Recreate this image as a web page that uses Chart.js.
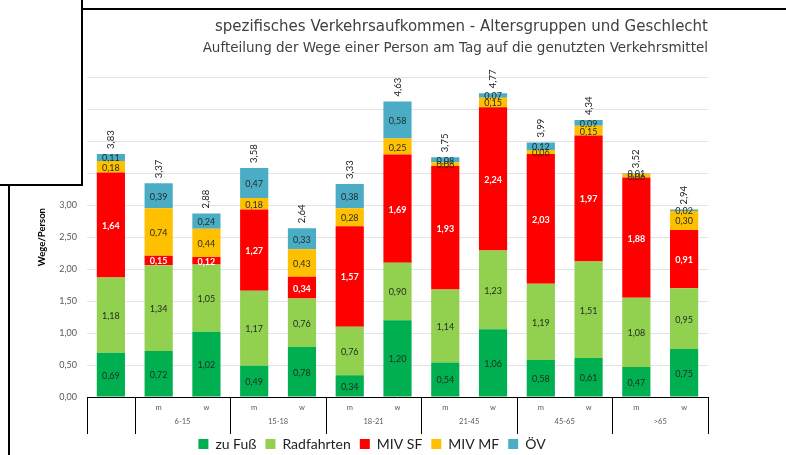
<!DOCTYPE html>
<html>
<head>
<meta charset="utf-8">
<script src="https://cdn.jsdelivr.net/npm/chart.js@4.4.1/dist/chart.umd.min.js"></script>
<style>
  html, body { margin: 0; padding: 0; background: #fff; }
  #wrap { position: relative; width: 786px; height: 455px; overflow: hidden; }
  #chart { position: absolute; left: 0; top: 0; }
  .ln { position: absolute; background: #000; }
  #box { position: absolute; left: 0; top: 0; width: 82px; height: 184px; background: #fff; }
</style>
</head>
<body>
<div id="wrap">
  <canvas id="chart" width="786" height="455"></canvas>
  <div class="ln" style="left:82px;top:8px;width:704px;height:2px"></div>
  <div class="ln" style="left:8px;top:184px;width:2px;height:271px"></div>
  <div id="box"></div>
  <div class="ln" style="left:81px;top:0;width:2px;height:186px"></div>
  <div class="ln" style="left:0;top:184px;width:83px;height:2px"></div>
</div>
<script>
// Kategorien (untere Ebene m/w, obere Ebene Altersgruppen)
const geschlecht = ['', 'm', 'w', 'm', 'w', 'm', 'w', 'm', 'w', 'm', 'w', 'm', 'w'];
const altersgruppen = ['', '6-15', '15-18', '18-21', '21-45', '45-65', '>65'];

// Wege pro Person und Tag
const zuFuss     = [0.69, 0.72, 1.02, 0.49, 0.78, 0.34, 1.20, 0.54, 1.06, 0.58, 0.61, 0.47, 0.75];
const radfahrten = [1.18, 1.34, 1.05, 1.17, 0.76, 0.76, 0.90, 1.14, 1.23, 1.19, 1.51, 1.08, 0.95];
const mivSF      = [1.64, 0.15, 0.12, 1.27, 0.34, 1.57, 1.69, 1.93, 2.24, 2.03, 1.97, 1.88, 0.91];
const mivMF      = [0.18, 0.74, 0.44, 0.18, 0.43, 0.28, 0.25, 0.06, 0.15, 0.06, 0.15, 0.06, 0.30];
const oev        = [0.11, 0.39, 0.24, 0.47, 0.33, 0.38, 0.58, 0.08, 0.07, 0.12, 0.09, 0.01, 0.02];
const summen     = [3.83, 3.37, 2.88, 3.58, 2.64, 3.33, 4.63, 3.75, 4.77, 3.99, 4.34, 3.52, 2.94];

const fmt = v => v.toFixed(2).replace('.', ',');

const labelPlugin = {
    id: 'labels',
    afterDatasetsDraw(chart) {
        const c = chart.ctx;
        c.save();
        c.textAlign = 'center';
        c.textBaseline = 'middle';
        chart.data.datasets.forEach((ds, di) => {
            const meta = chart.getDatasetMeta(di);
            meta.data.forEach((bar, i) => {
                const v = ds.data[i];
                if (!v) return;
                const y = (bar.y + bar.base) / 2;
                if (di == 2) {
                    c.fillStyle = '#fff';
                    c.font = 'bold 9px Lato';
                } else {
                    c.fillStyle = '#1f2a1f';
                    c.font = '9px Lato';
                }
                c.fillText(fmt(v), bar.x, y + 1);
            });
        });
        // Summen, gedreht über den Balken
        const top = chart.getDatasetMeta(4).data;
        c.fillStyle = '#222';
        c.font = '9.5px Lato';
        c.textAlign = 'left';
        top.forEach((bar, i) => {
            c.save();
            c.translate(bar.x, bar.y - 5);
            c.rotate(-Math.PI / 2);
            c.fillText(fmt(summen[i]), 0, 0);
            c.restore();
        });
        c.restore();
    },
    afterDraw(chart) {
        // zweistufige Achsenbeschriftung wie in Excel
        const c = chart.ctx;
        const x = chart.scales.x;
        const a = chart.chartArea;
        const b = a.bottom;
        c.save();
        c.strokeStyle = '#000';
        c.lineWidth = 1;
        c.beginPath();
        c.moveTo(a.left, b + 0.5);
        c.lineTo(a.right, b + 0.5);
        const grenzen = [a.left];
        for (let i = 0; i < geschlecht.length - 1; i += 2) {
            grenzen.push((x.getPixelForValue(i) + x.getPixelForValue(i + 1)) / 2);
        }
        grenzen.push(a.right);
        grenzen.forEach(g => {
            const gx = Math.round(g) + 0.5;
            c.moveTo(gx, b);
            c.lineTo(gx, b + 37);
        });
        c.stroke();
        c.fillStyle = '#595959';
        c.font = '7.5px Lato';
        c.textAlign = 'center';
        c.textBaseline = 'middle';
        geschlecht.forEach((g, i) => {
            if (g) c.fillText(g, x.getPixelForValue(i), b + 11);
        });
        for (let k = 1; k < altersgruppen.length; k++) {
            const mx = (x.getPixelForValue(2 * k - 1) + x.getPixelForValue(2 * k)) / 2;
            c.fillText(altersgruppen[k], mx, b + 25);
        }
        c.restore();
    }
};

const ctx = document.getElementById('chart').getContext('2d');

const config = {
    type: 'bar',
    data: {
        labels: geschlecht,
        datasets: [
            { label: 'zu Fuß', data: zuFuss, backgroundColor: '#00B050' },
            { label: 'Radfahrten', data: radfahrten, backgroundColor: '#92D050' },
            { label: 'MIV SF', data: mivSF, backgroundColor: '#FF0000' },
            { label: 'MIV MF', data: mivMF, backgroundColor: '#FFC000' },
            { label: 'ÖV', data: oev, backgroundColor: '#4BACC6' }
        ]
    },
    options: {
        responsive: false,
        animation: false,
        layout: { padding: { left: 36, right: 78, top: 14, bottom: -6 } },
        datasets: { bar: { barPercentage: 0.59, categoryPercentage: 1 } },
        scales: {
            x: {
                stacked: true,
                grid: { display: false },
                border: { display: false },
                ticks: { display: false },
                afterFit: s => { s.height = 31; }
            },
            y: {
                stacked: true,
                min: 0,
                max: 5,
                ticks: {
                    stepSize: 0.5,
                    padding: 10,
                    color: '#595959',
                    font: { size: 9, family: 'Lato' },
                    callback: v => fmt(v)
                },
                grid: { color: '#e3e3e3', drawTicks: false },
                border: { display: false },
                title: {
                    display: true,
                    text: 'Wege/Person',
                    color: '#000',
                    font: { size: 9.5, weight: 'bold', family: 'Lato' },
                    padding: { top: 0, bottom: 2 }
                },
                afterFit: s => { s.width = 51; }
            }
        },
        plugins: {
            title: {
                display: true,
                align: 'end',
                text: 'spezifisches Verkehrsaufkommen - Altersgruppen und Geschlecht',
                color: '#404040',
                font: { size: 15, weight: 'normal', family: 'DejaVu Sans' },
                padding: { top: 4, bottom: 4 }
            },
            subtitle: {
                display: true,
                align: 'end',
                text: 'Aufteilung der Wege einer Person am Tag auf die genutzten Verkehrsmittel',
                color: '#404040',
                font: { size: 13.5, family: 'DejaVu Sans' },
                padding: { bottom: 21 }
            },
            legend: {
                position: 'bottom',
                labels: {
                    boxWidth: 10,
                    boxHeight: 10,
                    padding: 9,
                    color: '#222',
                    font: { size: 14, family: 'Lato' }
                }
            },
            tooltip: { enabled: false }
        }
    },
    plugins: [labelPlugin]
};

const myChart = new Chart(ctx, config);
</script>
</body>
</html>
